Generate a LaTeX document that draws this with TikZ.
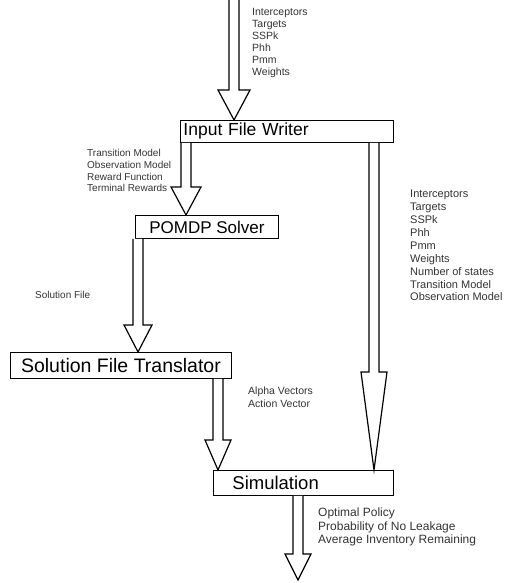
\documentclass[tikz,border=0pt]{standalone}
\usepackage{fontspec}
\setmainfont{Liberation Sans}
\usetikzlibrary{calc}
\newcommand\blockarr[5]{%
  \draw[barrow] ($(#1)+(-#3,0)$) -- ($(#2)+(-#3,-#5)$) -- ($(#2)+(-#4,-#5)$) -- (#2)
    -- ($(#2)+(#4,-#5)$) -- ($(#2)+(#3,-#5)$) -- ($(#1)+(#3,0)$);}
\begin{document}
\begin{tikzpicture}[x=1pt,y=-1pt,
  box/.style={draw, line width=0.9pt, inner sep=0pt, anchor=north west},
  lbl/.style={anchor=north west, inner sep=0pt, align=left, text=black!80},
  barrow/.style={draw, line width=1.2pt, fill=white, line join=miter}]
\useasboundingbox (0,0) rectangle (522,583);
% boxes
\node[box, minimum width=213pt, minimum height=22pt, text width=207pt, align=left,
  font=\fontsize{17.5}{19}\selectfont] (ifw) at (180,120) {Input File Writer};
\node[box, minimum width=143pt, minimum height=23pt,
  font=\fontsize{17}{19}\selectfont] (pomdp) at (135,215) {POMDP Solver};
\node[box, minimum width=221pt, minimum height=26pt,
  font=\fontsize{19.5}{21}\selectfont] (sft) at (10,352) {Solution File Translator};
\node[box, minimum width=180pt, minimum height=25pt, text width=142pt, align=left,
  font=\fontsize{18.5}{21}\selectfont] (sim) at (213,470) {Simulation};
% arrow x positions
\coordinate (xa) at (234,0);
\coordinate (xb) at (186,0);
\coordinate (xc) at (374,0);
\coordinate (xd) at (138,0);
\coordinate (xe) at (218,0);
\coordinate (xf) at (298,0);
\coordinate (topin) at (234,0);
\coordinate (botout) at (298,580);
\coordinate (a1t) at (ifw.north -| xa);
\coordinate (a2s) at (ifw.south -| xb);
\coordinate (a2t) at (pomdp.north -| xb);
\coordinate (a3s) at (ifw.south -| xc);
\coordinate (a3t) at (sim.north -| xc);
\coordinate (a4s) at (pomdp.south -| xd);
\coordinate (a4t) at (sft.north -| xd);
\coordinate (a5s) at (sft.south -| xe);
\coordinate (a5t) at (sim.north -| xe);
\coordinate (a6s) at (sim.south -| xf);
\blockarr{topin}{a1t}{5}{16}{30}
\blockarr{a2s}{a2t}{5}{15}{28}
\blockarr{a3s}{a3t}{5}{13}{98}
\blockarr{a4s}{a4t}{5}{14}{27}
\blockarr{a5s}{a5t}{5}{13}{30}
\blockarr{a6s}{botout}{5}{13}{26}
% labels
\node[lbl, font=\fontsize{10.5}{12}\selectfont] (l1) at (252,8) {Interceptors\\Targets\\SSPk\\Phh\\Pmm\\Weights};
\node[lbl, font=\fontsize{10}{11.8}\selectfont] (l2) at (87,149) {Transition Model\\Observation Model\\Reward Function\\Terminal Rewards};
\node[lbl, font=\fontsize{11}{12.9}\selectfont] (l3) at (410,190) {Interceptors\\Targets\\SSPk\\Phh\\Pmm\\Weights\\Number of states\\Transition Model\\Observation Model};
\node[lbl, font=\fontsize{10}{12}\selectfont] (l4) at (35,291) {Solution File};
\node[lbl, font=\fontsize{10.5}{13}\selectfont] (l5) at (248,387) {Alpha Vectors\\Action Vector};
\node[lbl, font=\fontsize{12}{13.5}\selectfont] (l6) at (318,508) {Optimal Policy\\Probability of No Leakage\\Average Inventory Remaining};
\end{tikzpicture}
\end{document}
